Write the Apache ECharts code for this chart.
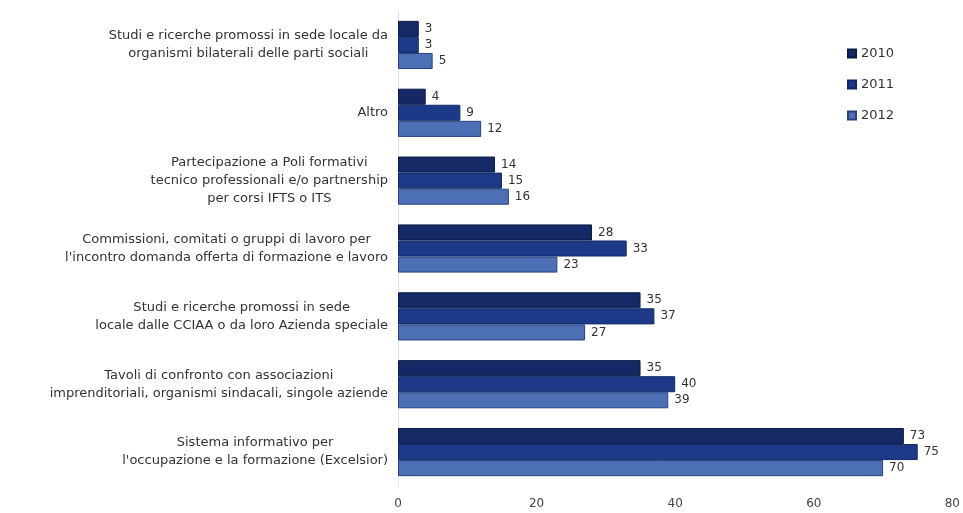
<!DOCTYPE html>
<html>
<head>
<meta charset="utf-8">
<script src="https://cdn.jsdelivr.net/npm/echarts@6/dist/echarts.min.js"></script>
<style>
  html, body { margin: 0; padding: 0; background: #ffffff; }
  #chart { width: 963px; height: 513px; }
</style>
</head>
<body>
<div id="chart"></div>
<script>
// Attività svolte, numero di Camere di Commercio per anno
const categories = [
  "Studi e ricerche promossi in sede locale da\norganismi bilaterali delle parti sociali",
  "Altro",
  "Partecipazione a Poli formativi\ntecnico professionali e/o partnership\nper corsi IFTS o ITS",
  "Commissioni, comitati o gruppi di lavoro per\nl'incontro domanda offerta di formazione e lavoro",
  "Studi e ricerche promossi in sede\nlocale dalle CCIAA o da loro Azienda speciale",
  "Tavoli di confronto con associazioni\nimprenditoriali, organismi sindacali, singole aziende",
  "Sistema informativo per\nl'occupazione e la formazione (Excelsior)"
];
const values2010 = [3, 4, 14, 28, 35, 35, 73];
const values2011 = [3, 9, 15, 33, 37, 40, 75];
const values2012 = [5, 12, 16, 23, 27, 39, 70];
const seriesNames = ["2010", "2011", "2012"];
const xTicks = { min: 0, max: 80, interval: 20 };

const FONT = "'DejaVu Sans', 'Open Sans', sans-serif";

const styles = [
  { color: "#142966", borderColor: "#0b1a45" },
  { color: "#1c3a88", borderColor: "#112a66" },
  { color: "#4d6fb6", borderColor: "#26417e" }
];

function barSeries(name, data, st) {
  return {
    name: name,
    type: "bar",
    data: data,
    barGap: "0%",
    barCategoryGap: "29%",
    itemStyle: { color: st.color, borderColor: st.borderColor, borderWidth: 1 },
    label: {
      show: true,
      position: "right",
      distance: 6,
      color: "#333333",
      fontFamily: FONT,
      fontSize: 12
    }
  };
}

const chart = echarts.init(document.getElementById("chart"), null, { renderer: "canvas" });
chart.setOption({
  animation: false,
  backgroundColor: "#ffffff",
  grid: { left: 398, right: 5, top: 11, bottom: 27, containLabel: false },
  legend: {
    orient: "vertical",
    left: 842,
    top: 42,
    itemGap: 18,
    itemWidth: 8,
    itemHeight: 8,
    icon: "rect",
    textStyle: { color: "#333333", fontFamily: FONT, fontSize: 13 },
    data: seriesNames
  },
  xAxis: {
    type: "value",
    min: xTicks.min,
    max: xTicks.max,
    interval: xTicks.interval,
    axisLine: { show: false },
    axisTick: { show: false },
    splitLine: { show: false },
    axisLabel: { color: "#444444", fontFamily: FONT, fontSize: 12, margin: 12 }
  },
  yAxis: {
    type: "category",
    inverse: true,
    data: categories,
    axisLine: { show: true, lineStyle: { color: "#e2e2e2", width: 1 } },
    axisTick: { show: false },
    axisLabel: {
      margin: 10,
      color: "#333333",
      fontFamily: FONT,
      fontSize: 13,
      lineHeight: 18,
      formatter: function (v) {
        return v.split("\n").map(function (l) { return "{c|" + l + "}"; }).join("\n");
      },
      rich: { c: { align: "center", color: "#333333", fontFamily: FONT, fontSize: 13, lineHeight: 18 } }
    }
  },
  series: [
    barSeries(seriesNames[0], values2010, styles[0]),
    barSeries(seriesNames[1], values2011, styles[1]),
    barSeries(seriesNames[2], values2012, styles[2])
  ]
});
</script>
</body>
</html>
